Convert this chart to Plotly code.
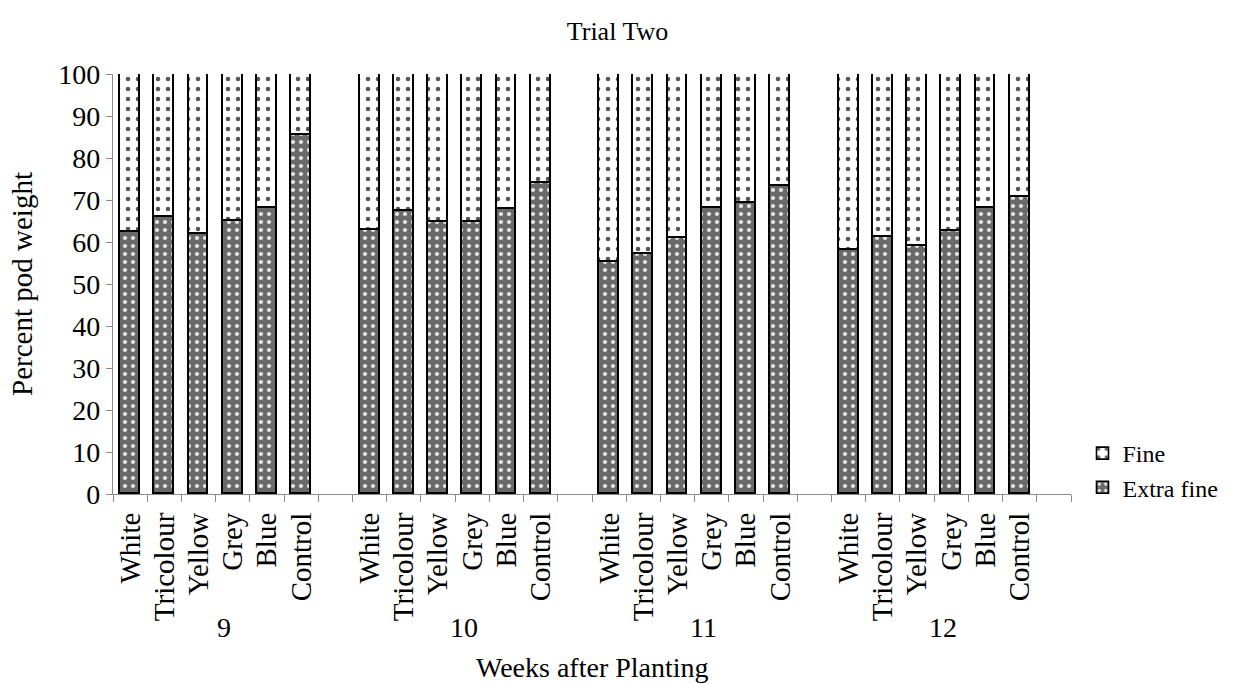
import plotly.graph_objects as go

weeks = ["9", "10", "11", "12"]
treatments = ["White", "Tricolour", "Yellow", "Grey", "Blue", "Control"]

extra_fine = [62.3, 66.0, 61.8, 65.1, 68.0, 85.5,
              62.9, 67.3, 64.8, 64.8, 67.9, 74.0,
              55.3, 57.1, 61.0, 68.0, 69.4, 73.3,
              58.0, 61.2, 59.1, 62.7, 68.0, 70.7]
fine = [37.7, 34.0, 38.2, 34.9, 32.0, 14.5,
        37.1, 32.7, 35.2, 35.2, 32.1, 26.0,
        44.7, 42.9, 39.0, 32.0, 30.6, 26.7,
        42.0, 38.8, 40.9, 37.3, 32.0, 29.3]
y_ticks = [0, 10, 20, 30, 40, 50, 60, 70, 80, 90, 100]

slots_per_group = len(treatments) + 1
n_slots = slots_per_group * len(weeks)
x_pos = [g * slots_per_group + j + 0.5 for g in range(len(weeks)) for j in range(len(treatments))]
x_labels = [t for _ in weeks for t in treatments]

FONT = "Liberation Serif, Times New Roman, serif"
AXIS_COL = "#8c8c8c"

fig = go.Figure()
fig.add_trace(go.Bar(
    x=x_pos, y=extra_fine, name="Extra fine", width=0.58,
    marker=dict(color="#6f6f6f", line=dict(color="black", width=1.6),
                pattern=dict(shape=".", bgcolor="#6a6a6a", fgcolor="#e6e6e6",
                             size=8, solidity=0.22, fillmode="replace")),
))
fig.add_trace(go.Bar(
    x=x_pos, y=fine, name="Fine", width=0.58,
    marker=dict(color="white", line=dict(color="black", width=1.6),
                pattern=dict(shape=".", bgcolor="white", fgcolor="#555555",
                             size=10, solidity=0.16, fillmode="replace")),
))

annotations = []
for g, w in enumerate(weeks):
    annotations.append(dict(
        x=g * slots_per_group + 3.25, xref="x", y=-0.319, yref="paper",
        text=w, showarrow=False, font=dict(family=FONT, size=28, color="black"),
        xanchor="center", yanchor="middle"))
annotations.append(dict(
    x=0.5, xref="paper", y=-0.412, yref="paper", text="Weeks after Planting",
    showarrow=False, font=dict(family=FONT, size=28, color="black"),
    xanchor="center", yanchor="middle"))

fig.update_layout(
    barmode="stack",
    width=1235, height=684,
    margin=dict(l=113, r=150, t=74, b=190),
    paper_bgcolor="white", plot_bgcolor="white",
    font=dict(family=FONT, size=28, color="black"),
    title=dict(text="Trial Two", x=0.5, xanchor="center", y=0.955, yanchor="middle",
               xref="container", font=dict(family=FONT, size=26, color="black")),
    showlegend=True,
    legend=dict(x=1.012, y=0.15, xanchor="left", yanchor="top",
                traceorder="reversed", font=dict(family=FONT, size=24, color="black"),
                itemwidth=30, bgcolor="rgba(0,0,0,0)"),
    annotations=annotations,
    bargap=0,
)
fig.update_xaxes(
    range=[0, n_slots], tickmode="array", tickvals=x_pos, ticktext=x_labels,
    tickangle=-90, ticks="", showline=True, linecolor=AXIS_COL, linewidth=1.2,
    showgrid=False, zeroline=False, ticklabelstandoff=6,
    tickfont=dict(family=FONT, size=29, color="black"),
    minor=dict(tickmode="array", tickvals=list(range(n_slots + 1)), ticks="outside",
               ticklen=7, tickcolor=AXIS_COL, tickwidth=1.2, showgrid=False),
)
fig.update_yaxes(
    range=[0, 100], tickmode="array", tickvals=y_ticks,
    ticks="outside", ticklen=6, tickcolor=AXIS_COL, tickwidth=1.2,
    showline=True, linecolor=AXIS_COL, linewidth=1.2, showgrid=False, zeroline=False,
    tickfont=dict(family=FONT, size=28, color="black"),
    title=dict(text="Percent pod weight", font=dict(family=FONT, size=29, color="black"), standoff=17),
)

fig.write_html("out.html")
